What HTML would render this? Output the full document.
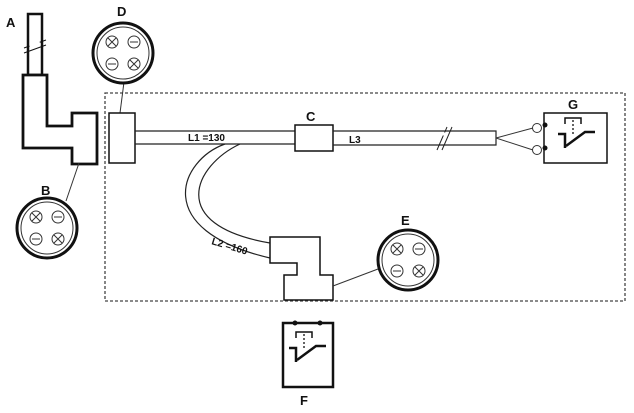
<!DOCTYPE html>
<html><head><style>
html,body{margin:0;padding:0;background:#fff;}
svg{display:block;}
text{font-family:"Liberation Sans",sans-serif;font-weight:bold;fill:#111;}
</style></head><body>
<svg width="634" height="413" viewBox="0 0 634 413">
<defs>
<g id="conn">
  <circle r="30" fill="#fff" stroke="#111" stroke-width="3"/>
  <circle r="26" fill="none" stroke="#333" stroke-width="1"/>
  <g stroke="#333" stroke-width="1" fill="#fff">
    <circle cx="-11" cy="-11" r="6"/><circle cx="11" cy="-11" r="6"/>
    <circle cx="-11" cy="11" r="6"/><circle cx="11" cy="11" r="6"/>
    <path d="M-15,-15 L-7,-7 M-7,-15 L-15,-7 M7,7 L15,15 M15,7 L7,15"/>
    <path d="M7,-11 H15 M-15,11 H-7"/>
  </g>
</g>
<g id="sw" stroke="#111" fill="none">
  <path d="M0,6 V0 H16 V6" stroke-width="1.5"/>
  <path d="M8,2 V16" stroke-dasharray="2,2" stroke-width="1.3"/>
  <path d="M-7,16 H0 V24 M0,20 V30" stroke-width="2.5"/>
  <path d="M1,28 L20,14 H30" stroke-width="2.5"/>
</g>
</defs>
<!-- dashed enclosure -->
<rect x="105" y="93" width="520" height="208" fill="none" stroke="#444" stroke-width="1.3" stroke-dasharray="3,2"/>
<!-- A -->
<rect x="28" y="14" width="14" height="61" fill="#fff" stroke="#111" stroke-width="2.5"/>
<path d="M24,48 L46,40 M24,53 L46,45" stroke="#111" stroke-width="1"/>
<path d="M30,47 L40,43" stroke="#fff" stroke-width="4"/>
<text x="6" y="27" font-size="13">A</text>
<path d="M23,75 H47 V126 H72 V113 H97 V164 H72 V148 H23 Z" fill="#fff" stroke="#111" stroke-width="2.8"/>
<!-- B -->
<line x1="79" y1="163" x2="66" y2="201" stroke="#333"/>
<use href="#conn" x="47" y="228"/>
<text x="41" y="195" font-size="13">B</text>
<!-- D -->
<line x1="120" y1="113" x2="124" y2="82" stroke="#333"/>
<use href="#conn" x="123" y="53"/>
<text x="117" y="16" font-size="13">D</text>
<!-- left connector -->
<rect x="109" y="113" width="26" height="50" fill="#fff" stroke="#111" stroke-width="1.5"/>
<!-- L1 -->
<path d="M135,131 H296 M135,144 H296" stroke="#222" stroke-width="1.2"/>
<text x="188" y="141" font-size="10" font-weight="normal">L1 =130</text>
<!-- L2 curve -->
<path d="M225,144 C180,160 150,230 270,258" fill="none" stroke="#222" stroke-width="1.2"/>
<path d="M240,144 C195,165 165,225 270,243" fill="none" stroke="#222" stroke-width="1.2"/>
<text x="211" y="244" font-size="10" font-weight="normal" transform="rotate(17 211 244)">L2 =160</text>
<!-- C -->
<rect x="295" y="125" width="38" height="26" fill="#fff" stroke="#111" stroke-width="1.5"/>
<text x="306" y="121" font-size="13">C</text>
<!-- L3 -->
<path d="M333,131 H496 V145 H333" fill="none" stroke="#222" stroke-width="1.2"/>
<text x="349" y="143" font-size="10" font-weight="normal">L3</text>
<path d="M437,150 L447,127 M442,150 L452,127" stroke="#222" stroke-width="1"/>
<path d="M441,134 L446,134" stroke="#fff" stroke-width="3"/>
<!-- wires to G -->
<path d="M496,138 L533,128 M496,138 L533,150" stroke="#333" stroke-width="1"/>
<circle cx="537" cy="128" r="4.5" fill="#fff" stroke="#333"/>
<circle cx="537" cy="150" r="4.5" fill="#fff" stroke="#333"/>
<!-- G -->
<rect x="544" y="113" width="63" height="50" fill="#fff" stroke="#111" stroke-width="1.5"/>
<circle cx="545" cy="125" r="2.5" fill="#111"/><circle cx="545" cy="148" r="2.5" fill="#111"/>
<use href="#sw" x="565" y="118"/>
<text x="568" y="109" font-size="13">G</text>
<!-- E connector body -->
<path d="M270,237 H320 V275 H333 V300 H284 V275 H297 V263 H270 Z" fill="#fff" stroke="#111" stroke-width="1.5"/>
<line x1="333" y1="286" x2="378" y2="269" stroke="#333"/>
<use href="#conn" x="408" y="260"/>
<text x="401" y="225" font-size="13">E</text>
<!-- F -->
<rect x="283" y="323" width="50" height="64" fill="#fff" stroke="#111" stroke-width="2.5"/>
<circle cx="295" cy="323" r="2.5" fill="#111"/><circle cx="320" cy="323" r="2.5" fill="#111"/>
<use href="#sw" x="296" y="332"/>
<text x="300" y="405" font-size="13">F</text>
</svg>
</body></html>
